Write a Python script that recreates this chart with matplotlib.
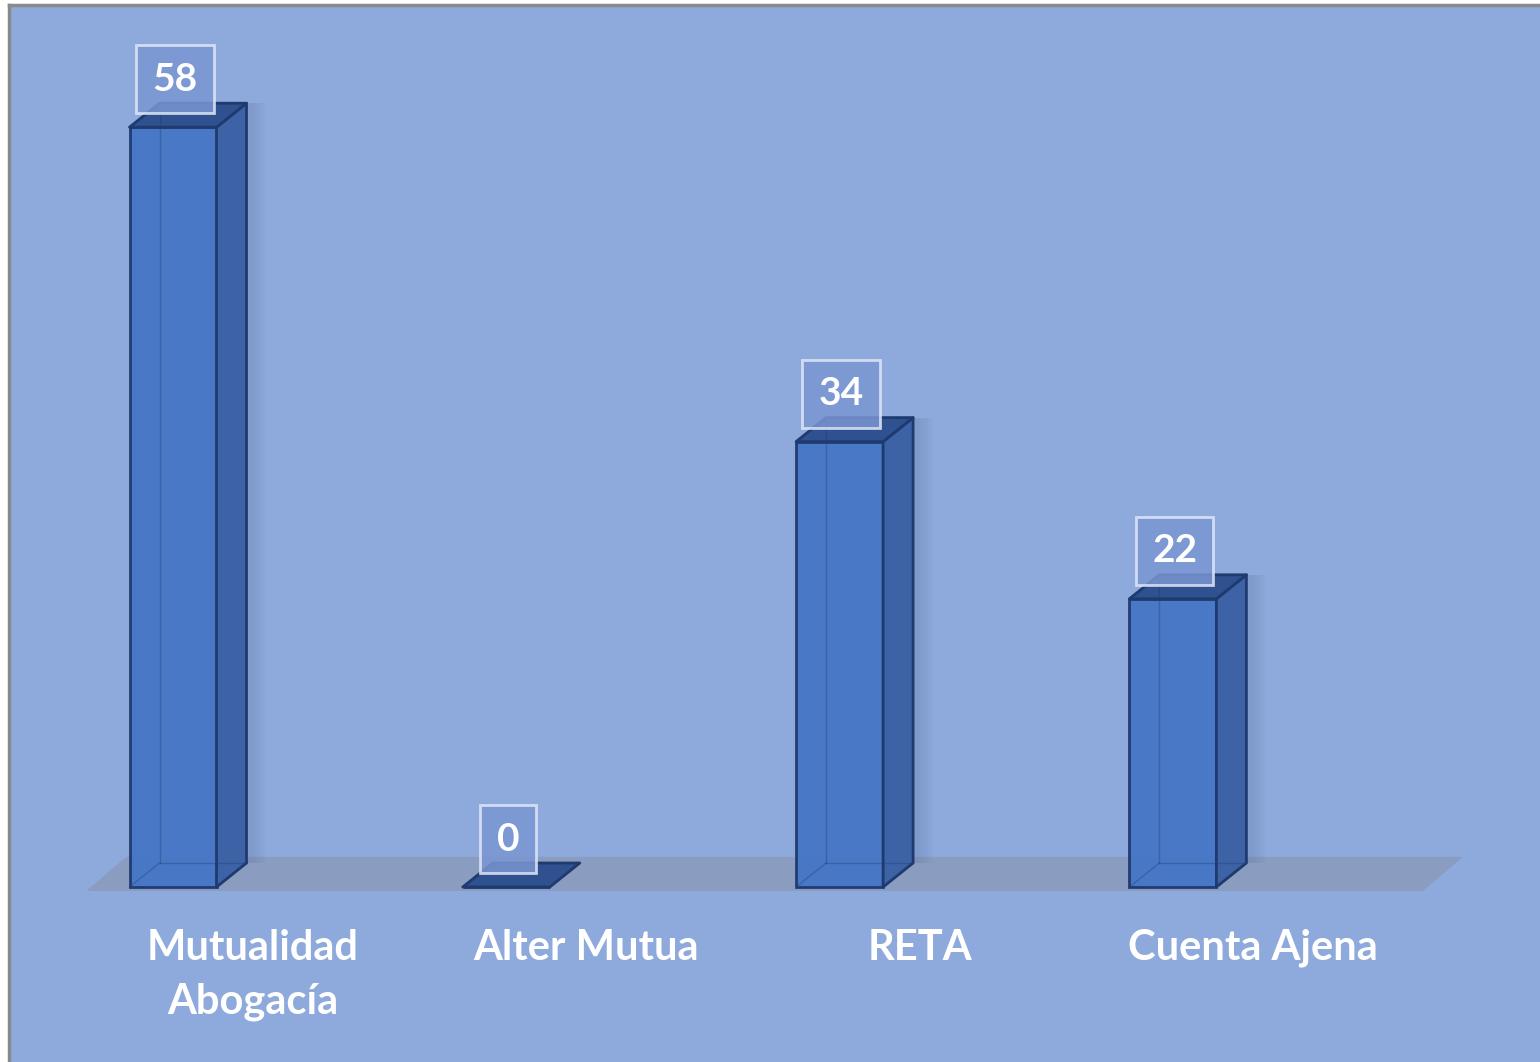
import numpy as np
import matplotlib
matplotlib.use("Agg")
import matplotlib.pyplot as plt
from matplotlib.patches import Polygon

# data
categories = ["Mutualidad\nAbogacía", "Alter Mutua", "RETA", "Cuenta Ajena"]
values = [58, 0, 34, 22]

# look
bg = "#8eaadc"
front = "#4677c6"
side = "#3d62a6"
top = "#2f518f"
edge = "#1f3a6e"
floor_col = "#8a9cc0"

W, H = 1540, 1062
fig = plt.figure(figsize=(W / 100, H / 100), dpi=100)
fig.patch.set_facecolor("white")
ax = fig.add_axes([9 / W, 0, 1 - 9 / W, 1 - 5 / H])
ax.set_facecolor(bg)

# pixel scale of the plot (px per x-unit, px per value)
sx, sy = 333.3, 13.1
x0_px, base_px = 173, 887
ax.set_xlim((9 - x0_px) / sx, (W - x0_px) / sx)
ax.set_ylim(-(H - base_px) / sy, (base_px - 5) / sy)

dx = 30 / sx   # depth in x
dy = 24 / sy   # depth in y
bw = 87 / sx

x = np.arange(len(values))

# floor
fl = Polygon([(-0.26, -0.3), (3.75, -0.3), (3.87, 2.3), (-0.14, 2.3)],
             closed=True, facecolor=floor_col, edgecolor="none", zorder=1)
ax.add_patch(fl)

bars = ax.bar(x, values, width=bw, color=front, edgecolor=edge, linewidth=2, zorder=3, alpha=0.97)

for xi, v in zip(x, values):
    l, r = xi - bw / 2, xi + bw / 2
    # soft shadow
    for k in range(6):
        ax.add_patch(Polygon([(r + dx, dy), (r + dx + 0.02 + k * 0.008, dy),
                              (r + dx + 0.02 + k * 0.008, v + dy), (r + dx, v + dy)],
                             facecolor="#5f78a8", alpha=0.05, edgecolor="none", zorder=2))
    if v > 0:
        # hidden back edges
        ax.plot([l + dx, l + dx], [dy, v + dy], color=edge, lw=1, alpha=0.35, zorder=4)
        ax.plot([l + dx, r + dx], [dy, dy], color=edge, lw=1, alpha=0.35, zorder=4)
        ax.plot([l, l + dx], [0, dy], color=edge, lw=1, alpha=0.35, zorder=4)
        ax.add_patch(Polygon([(r, 0), (r + dx, dy), (r + dx, v + dy), (r, v)],
                             facecolor=side, edgecolor=edge, lw=2, zorder=3, joinstyle="round"))
    ax.add_patch(Polygon([(l, v), (l + dx, v + dy), (r + dx, v + dy), (r, v)],
                         facecolor=top, edgecolor=edge, lw=2, zorder=3, joinstyle="round"))

# value labels
for xi, v in zip(x, values):
    ax.annotate(str(v), (xi + 0.005, v), xytext=(0, 34.5), textcoords="offset points",
                ha="center", va="center", fontsize=28, color="white",
                fontfamily="Lato", fontweight="bold", zorder=6,
                bbox=dict(boxstyle="square,pad=0.42", facecolor="#7a96d2", alpha=0.85,
                          edgecolor="#dfe7f7", linewidth=2))

# category labels
for xi, c in zip(x, categories):
    ax.text(xi + 0.24, -3.2, c, ha="center", va="top", fontsize=30, color="white",
            fontfamily="Lato", fontweight="bold", linespacing=1.5, zorder=6)

ax.set_xticks([])
ax.set_yticks([])
for s in ["right", "bottom"]:
    ax.spines[s].set_visible(False)
for s in ["left", "top"]:
    ax.spines[s].set_color("#8a8a8a")
    ax.spines[s].set_linewidth(2.5)

fig.savefig("out.png", dpi=100, facecolor=fig.get_facecolor())
